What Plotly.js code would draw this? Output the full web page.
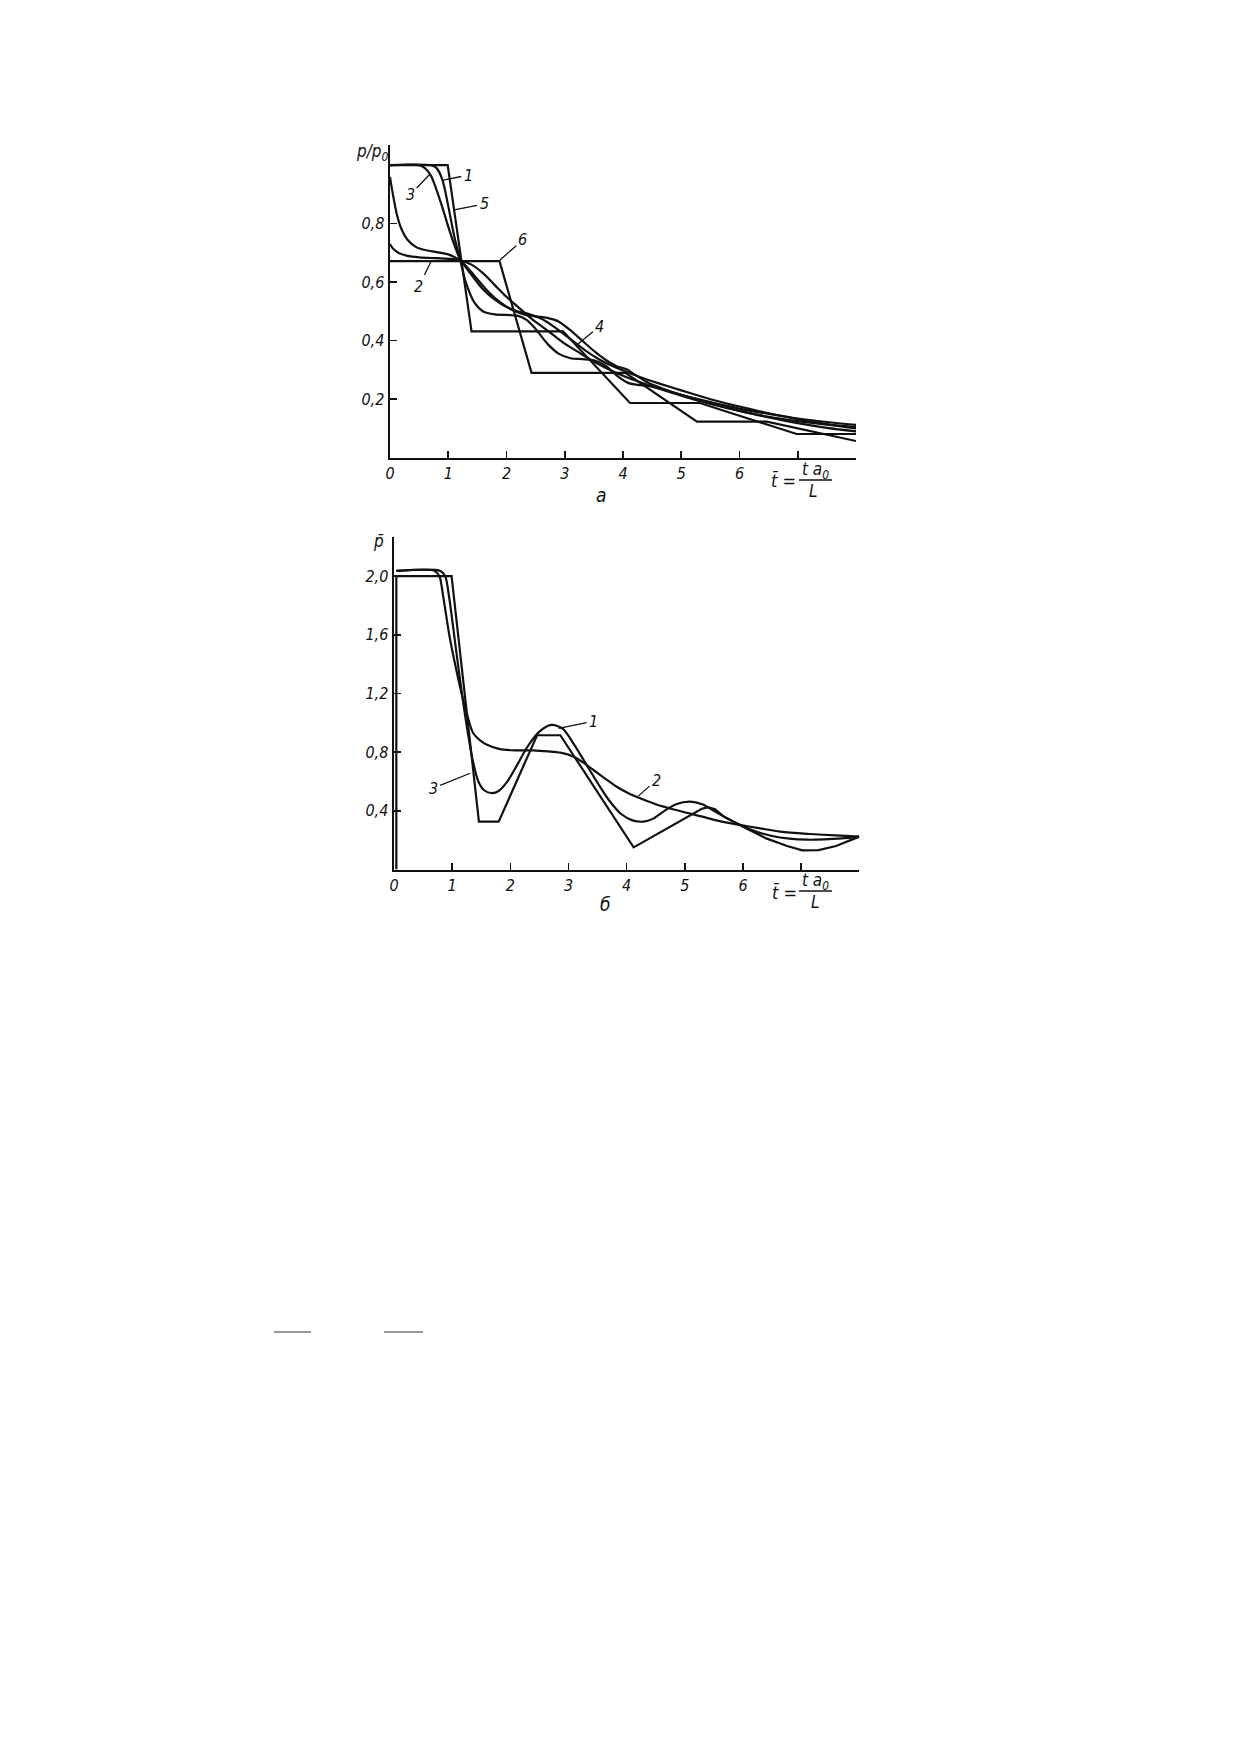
<!DOCTYPE html>
<html>
<head>
<meta charset="utf-8">
<script src="https://cdn.plot.ly/plotly-3.0.1.min.js"></script>
<style>
  html, body { margin: 0; padding: 0; background: #fff; }
</style>
</head>
<body>
<div id="chart" style="width:1239px;height:1752px"></div>
<script>
// --- chart a: p/p0 against t = t a0 / L ---
const tickT = [0, 1, 2, 3, 4, 5, 6];
const tickTText = ['0', '1', '2', '3', '4', '5', '6'];
const tickTMinor = [7, 8];
const topTickP = [0.2, 0.4, 0.6, 0.8];
const topTickPText = ['0,2', '0,4', '0,6', '0,8'];

const topT1 = [0, 0.7, 0.8, 0.9, 1.0, 1.1, 1.2, 1.3, 1.45, 1.6, 1.8, 2.0, 2.2, 2.35, 2.5, 2.7, 2.9, 3.1, 3.3, 3.5, 3.7, 3.9, 4.1, 4.3, 4.5, 4.8, 5.2, 5.6, 6.0, 6.5, 7.0, 7.5, 8.0];
const topP1 = [1.0, 1.0, 0.99, 0.95, 0.86, 0.76, 0.68, 0.6, 0.53, 0.5, 0.49, 0.488, 0.485, 0.47, 0.44, 0.39, 0.355, 0.34, 0.337, 0.333, 0.315, 0.28, 0.255, 0.248, 0.243, 0.225, 0.2, 0.18, 0.16, 0.138, 0.118, 0.102, 0.09];

const topT2 = [0, 0.05, 0.15, 0.3, 0.5, 0.8, 1.0, 1.2, 1.4, 1.6, 1.8, 2.0, 2.2, 2.4, 2.6, 2.8, 3.0, 3.2, 3.4, 3.6, 3.8, 4.0, 4.3, 4.6, 5.0, 5.5, 6.0, 6.5, 7.0, 7.5, 8.0];
const topP2 = [0.73, 0.715, 0.7, 0.69, 0.685, 0.682, 0.68, 0.675, 0.66, 0.63, 0.59, 0.55, 0.515, 0.48, 0.45, 0.42, 0.39, 0.365, 0.34, 0.318, 0.298, 0.28, 0.258, 0.238, 0.215, 0.19, 0.168, 0.15, 0.134, 0.122, 0.112];

const topT3 = [0, 0.5, 0.6, 0.7, 0.8, 0.9, 1.0, 1.1, 1.2, 1.4, 1.6, 1.8, 2.0, 2.2, 2.4, 2.6, 2.8, 3.0, 3.2, 3.4, 3.6, 3.8, 4.0, 4.3, 4.6, 5.0, 5.5, 6.0, 6.5, 7.0, 7.5, 8.0];
const topP3 = [1.0, 1.0, 0.99, 0.965, 0.915, 0.855, 0.79, 0.73, 0.68, 0.625, 0.575, 0.54, 0.515, 0.5, 0.49, 0.475, 0.45, 0.42, 0.39, 0.36, 0.335, 0.315, 0.298, 0.275, 0.255, 0.23, 0.2, 0.175, 0.152, 0.132, 0.115, 0.1];

const topT4 = [0, 0.05, 0.12, 0.2, 0.3, 0.45, 0.6, 0.8, 1.0, 1.2, 1.35, 1.5, 1.7, 1.9, 2.1, 2.3, 2.5, 2.7, 2.9, 3.1, 3.3, 3.5, 3.7, 3.9, 4.05, 4.2, 4.4, 4.7, 5.0, 5.5, 6.0, 6.5, 7.0, 7.5, 8.0];
const topP4 = [0.96, 0.9, 0.83, 0.78, 0.745, 0.72, 0.71, 0.703, 0.695, 0.675, 0.645, 0.61, 0.565, 0.53, 0.505, 0.49, 0.483, 0.478, 0.465, 0.435, 0.4, 0.365, 0.335, 0.312, 0.303, 0.285, 0.26, 0.235, 0.215, 0.185, 0.16, 0.14, 0.125, 0.113, 0.105];

const topT5 = [0, 0.99, 1.40, 2.97, 4.12, 5.32, 6.98, 8.0];
const topP5 = [1.0, 1.0, 0.432, 0.432, 0.187, 0.187, 0.081, 0.081];

const topT6 = [0, 1.88, 2.43, 4.04, 5.27, 6.47, 8.0];
const topP6 = [0.672, 0.672, 0.29, 0.29, 0.123, 0.123, 0.057];

// --- chart б: p against t ---
const botTickP = [0.4, 0.8, 1.2, 1.6, 2.0];
const botTickPText = ['0,4', '0,8', '1,2', '1,6', '2,0'];

const botT1 = [0.04, 0.8, 0.88, 0.95, 1.05, 1.15, 1.25, 1.35, 1.45, 1.55, 1.68, 1.8, 1.95, 2.1, 2.3, 2.5, 2.71, 2.9, 3.1, 3.3, 3.5, 3.7, 3.9, 4.1, 4.29, 4.45, 4.65, 4.85, 5.09, 5.3, 5.5, 5.75, 5.96, 6.2, 6.5, 6.8, 7.1, 7.4, 7.7, 8.0];
const botP1 = [2.035, 2.035, 2.0, 1.85, 1.55, 1.25, 0.98, 0.75, 0.6, 0.54, 0.52, 0.535, 0.6, 0.7, 0.84, 0.94, 0.985, 0.96, 0.85, 0.72, 0.59, 0.47, 0.38, 0.335, 0.326, 0.345, 0.4, 0.445, 0.462, 0.445, 0.4, 0.345, 0.303, 0.262, 0.228, 0.21, 0.203, 0.205, 0.212, 0.224];

const botT2 = [0.04, 0.7, 0.78, 0.85, 0.95, 1.05, 1.15, 1.25, 1.36, 1.48, 1.6, 1.82, 2.1, 2.4, 2.65, 2.86, 3.09, 3.25, 3.43, 3.63, 3.83, 4.03, 4.2, 4.5, 4.9, 5.3, 5.6, 5.96, 6.3, 6.64, 7.16, 7.6, 8.0];
const botP2 = [2.035, 2.035, 2.0, 1.85, 1.6, 1.4, 1.22, 1.065, 0.93, 0.88, 0.85, 0.82, 0.812, 0.812, 0.805, 0.796, 0.769, 0.73, 0.678, 0.62, 0.564, 0.52, 0.49, 0.445, 0.4, 0.36, 0.33, 0.303, 0.28, 0.258, 0.242, 0.232, 0.224];

const botT3 = [0.04, 0.04, 0.99, 1.46, 1.80, 2.46, 2.86, 4.12, 5.3, 5.41, 5.52, 5.67, 6.0, 6.4, 6.76, 7.02, 7.3, 7.6, 8.0];
const botP3 = [0, 2.0, 2.0, 0.326, 0.326, 0.915, 0.915, 0.151, 0.415, 0.424, 0.41, 0.36, 0.292, 0.212, 0.16, 0.13, 0.132, 0.16, 0.224];

const FONT = 'DejaVu Sans Condensed, DejaVu Sans, sans-serif';
const INK = '#111';
const W = 1239, H = 1752;

function px(X) { return X / W; }
function py(Y) { return 1 - Y / H; }

function curve(x, y, xa, ya, shape) {
    return {
        type: 'scatter', mode: 'lines', x: x, y: y, xaxis: xa, yaxis: ya,
        line: { color: INK, width: 2.2, shape: shape, smoothing: 0.8 },
        hoverinfo: 'skip'
    };
}

const traces = [
    curve(topT1, topP1, 'x', 'y', 'spline'),
    curve(topT2, topP2, 'x', 'y', 'spline'),
    curve(topT3, topP3, 'x', 'y', 'spline'),
    curve(topT4, topP4, 'x', 'y', 'spline'),
    curve(topT5, topP5, 'x', 'y', 'linear'),
    curve(topT6, topP6, 'x', 'y', 'linear'),
    curve(botT1, botP1, 'x2', 'y2', 'spline'),
    curve(botT2, botP2, 'x2', 'y2', 'spline'),
    curve(botT3, botP3, 'x2', 'y2', 'linear')
];

const tickFont = { family: FONT, size: 16, color: INK, style: 'italic' };

function axisX(domain, anchor) {
    return {
        domain: domain, anchor: anchor, range: [0, 8],
        showline: true, linecolor: INK, linewidth: 2.5,
        ticks: 'inside', ticklen: 7, tickwidth: 1.6, tickcolor: INK,
        tickmode: 'array', tickvals: tickT, ticktext: tickTText, tickfont: tickFont,
        minor: { tickmode: 'array', tickvals: tickTMinor, ticks: 'inside', ticklen: 7, tickwidth: 1.6, tickcolor: INK, showgrid: false },
        showgrid: false, zeroline: false, fixedrange: true
    };
}

function axisY(domain, anchor, top, vals, texts) {
    return {
        domain: domain, anchor: anchor, range: [0, top],
        showline: true, linecolor: INK, linewidth: 2.5,
        ticks: 'inside', ticklen: 7, tickwidth: 1.6, tickcolor: INK,
        tickmode: 'array', tickvals: vals, ticktext: texts, tickfont: tickFont,
        showgrid: false, zeroline: false, fixedrange: true
    };
}

function tag(text, x, y, ax, ay, xref, yref) {
    return {
        text: text, x: x, y: y, xref: xref, yref: yref, ax: ax, ay: ay,
        showarrow: true, arrowhead: 0, arrowwidth: 1.3, arrowcolor: INK,
        standoff: 0, startstandoff: 1,
        font: { family: FONT, size: 16, color: INK, style: 'italic' }
    };
}

function note(text, X, Y, size) {
    return {
        text: text, x: px(X), y: py(Y), xref: 'paper', yref: 'paper',
        showarrow: false, xanchor: 'center', yanchor: 'middle',
        font: { family: FONT, size: size || 16, color: INK, style: 'italic' }
    };
}

const annotations = [
    // curve numbers, chart a
    tag('1', 0.915, 0.949, 25, -5, 'x', 'y'),
    tag('3', 0.687, 0.970, -20, 21, 'x', 'y'),
    tag('5', 1.10, 0.847, 30, -6, 'x', 'y'),
    tag('6', 1.888, 0.676, 23, -20, 'x', 'y'),
    tag('2', 0.716, 0.676, -13, 27, 'x', 'y'),
    tag('4', 3.205, 0.385, 23, -19, 'x', 'y'),
    // curve numbers, chart б
    tag('1', 2.83, 0.962, 35, -7, 'x2', 'y2'),
    tag('2', 4.2, 0.50, 18, -16, 'x2', 'y2'),
    tag('3', 1.31, 0.656, -37, 15, 'x2', 'y2'),
    // axis titles
    note('p/p<sub>0</sub>', 372, 152, 17),
    note('t\u0304 =', 783, 480, 18),
    note('t a<sub>0</sub>', 815, 470, 17),
    note('L', 813, 491, 17),
    note('\u0430', 601, 495, 19),
    note('p\u0304', 378, 541, 17),
    note('t\u0304 =', 785, 892, 18),
    note('t a<sub>0</sub>', 815, 881, 17),
    note('L', 815, 902, 17),
    note('\u0431', 605, 904, 19)
];

const shapes = [
    // fraction bars in the axis titles
    { type: 'line', xref: 'paper', yref: 'paper', x0: px(799), x1: px(832), y0: py(480), y1: py(480), line: { color: INK, width: 1.4 } },
    { type: 'line', xref: 'paper', yref: 'paper', x0: px(799), x1: px(832), y0: py(891), y1: py(891), line: { color: INK, width: 1.4 } },
    // short rules lower on the page
    { type: 'line', xref: 'paper', yref: 'paper', x0: px(274), x1: px(311), y0: py(1332), y1: py(1332), line: { color: '#333', width: 1.2 } },
    { type: 'line', xref: 'paper', yref: 'paper', x0: px(384), x1: px(423), y0: py(1332), y1: py(1332), line: { color: '#333', width: 1.2 } }
];

const layout = {
    width: W, height: H,
    margin: { l: 0, r: 0, t: 0, b: 0 },
    paper_bgcolor: '#ffffff', plot_bgcolor: '#ffffff',
    showlegend: false,
    font: { family: FONT, color: INK },
    xaxis: axisX([px(390), px(856)], 'y'),
    yaxis: axisY([py(457.7), py(145)], 'x', 1.069, topTickP, topTickPText),
    xaxis2: axisX([px(394), px(859.3)], 'y2'),
    yaxis2: axisY([py(869.5), py(536.7)], 'x2', 2.268, botTickP, botTickPText),
    annotations: annotations,
    shapes: shapes
};

Plotly.newPlot('chart', traces, layout, { staticPlot: true, displayModeBar: false });
</script>
</body>
</html>
